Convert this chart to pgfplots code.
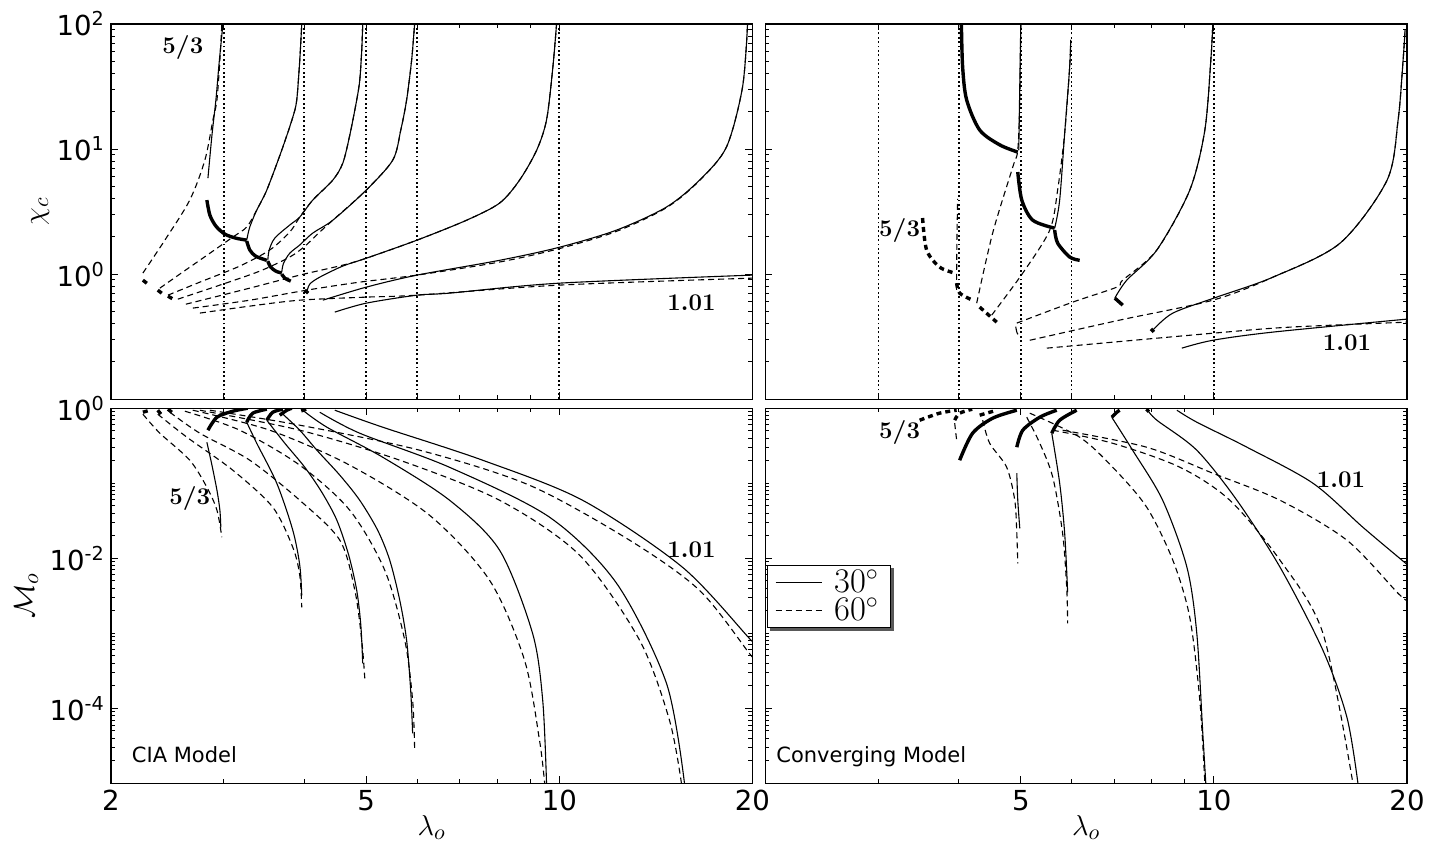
\documentclass[border=0pt]{standalone}
\usepackage[no-math]{fontspec}
\setmainfont{DejaVu Sans}
\usepackage{pgfplots}
\pgfplotsset{compat=1.18}
\usepgfplotslibrary{groupplots}
\usetikzlibrary{backgrounds}

% 1px of the reference = 0.5pt
\newcommand{\pw}[1]{10\raisebox{5pt}{\fontsize{9.6}{10}\selectfont #1}}

\pgfplotsset{
  sl/.style={black, line width=0.55pt, smooth, tension=0.5},
  dl/.style={black, line width=0.55pt, dash pattern=on 3pt off 2pt, smooth, tension=0.5},
  tsl/.style={black, line width=1.7pt, smooth, tension=0.5},
  tdl/.style={black, line width=1.7pt, dash pattern=on 2.5pt off 2pt, smooth, tension=0.5},
  vdl/.style={black, line width=0.9pt, dash pattern=on 0.9pt off 1.3pt},
}
\tikzset{lab/.style={font=\fontsize{11.5}{12}\selectfont\boldmath}}

\begin{document}
\begin{tikzpicture}
\begin{groupplot}[
  group style={group size=2 by 2, horizontal sep=6.5pt, vertical sep=4.5pt, group name=G},
  width=321pt, height=187.75pt, scale only axis,
  xmode=log, ymode=log, xmin=2, xmax=20,
  xtick={2,5,10,20}, minor xtick={3,4,6,7,8,9},
  tick align=inside,
  major tick length=3.5pt, minor tick length=2pt,
  major tick style={black, line width=0.5pt},
  minor tick style={black, line width=0.5pt},
  axis line style={line width=0.6pt},
  ticklabel style={font=\fontsize{13.8}{14}\selectfont},
  label style={font=\fontsize{15}{15}\selectfont},
]
% ---------------- top left: chi_c, CIA model
\nextgroupplot[ymin=0.1, ymax=100, ytick={1,10,100},
  yticklabels={\pw{0},\pw{1},\pw{2}},
  minor ytick={0.2,0.3,0.4,0.5,0.6,0.7,0.8,0.9,2,3,4,5,6,7,8,9,20,30,40,50,60,70,80,90},
  xticklabels={,,,},
  ylabel={$\chi_c$}, ylabel style={at={(rel axis cs:-0.11,0.5)}, anchor=center}]
\coordinate (tlo) at (rel axis cs:0,1);
\addplot[vdl] coordinates {(3,0.1) (3,100)};
\addplot[vdl] coordinates {(4,0.1) (4,100)};
\addplot[vdl] coordinates {(5,0.1) (5,100)};
\addplot[vdl] coordinates {(6,0.1) (6,100)};
\addplot[vdl] coordinates {(10,0.1) (10,100)};
% 30 deg
\addplot[sl] coordinates {(2.833,5.86) (2.874,12.9) (2.915,24.7) (2.947,47) (2.978,81.7) (2.989,100)};
\addplot[sl] coordinates {(3.256,1.87) (3.292,2.38) (3.375,3.25) (3.499,4.70) (3.693,9.82) (3.842,18.0) (3.897,24.7) (3.939,51.5) (3.968,100)};
\addplot[sl] coordinates {(3.512,1.29) (3.53,1.56) (3.601,1.94) (3.80,2.47) (3.939,2.86) (4.127,3.91) (4.435,5.65) (4.597,7.73) (4.713,12.9) (4.832,24.7) (4.885,35.6) (4.92,61.9) (4.937,100)};
\addplot[sl] coordinates {(3.693,1.04) (3.716,1.22) (3.80,1.47) (3.939,1.71) (4.127,2.13) (4.435,2.70) (5.0,4.70) (5.5,8.17) (5.66,14.2) (5.78,24.7) (5.885,51.5) (5.948,100)};
\addplot[sl] coordinates {(4.04,0.718) (4.083,0.832) (4.232,0.946) (4.597,1.16) (5.0,1.34) (6.0,1.87) (7.17,2.70) (8.07,3.70) (8.67,5.65) (9.22,9.82) (9.55,17.1) (9.76,42.9) (9.9,100)};
\addplot[sl] coordinates {(4.279,0.619) (5.0,0.787) (6.0,0.982) (8.07,1.29) (10,1.64) (12.28,2.25) (14.69,3.44) (16.54,5.65) (18.22,10.4) (19.3,31.3) (19.65,100)};
\addplot[sl] coordinates {(4.467,0.497) (5.0,0.586) (6.0,0.679) (6.745,0.705) (10,0.847) (20,0.982)};
\addplot[tsl] coordinates {(2.822,3.91) (2.853,2.96) (2.915,2.42) (3.01,2.09) (3.131,1.94) (3.256,1.87)};
\addplot[tsl] coordinates {(3.256,1.84) (3.292,1.56) (3.363,1.39) (3.499,1.29)};
\addplot[tsl] coordinates {(3.512,1.27) (3.548,1.14) (3.614,1.057) (3.693,1.02)};
\addplot[tsl] coordinates {(3.693,1.0) (3.733,0.929) (3.814,0.879)};
\addplot[tsl] coordinates {(4.01,0.745) (4.06,0.705)};
% 60 deg
\addplot[dl] coordinates {(2.243,1.02) (2.427,1.87) (2.654,3.91) (2.802,8.17) (2.884,17.1) (2.926,24.7) (2.957,51.5) (2.978,100)};
\addplot[dl] coordinates {(2.384,0.773) (2.589,1.04) (2.853,1.47) (3.098,1.98) (3.256,2.38) (3.375,3.25) (3.499,4.70) (3.693,9.82) (3.842,18.0) (3.897,24.7) (3.939,51.5) (3.968,100)};
\addplot[dl] coordinates {(2.454,0.679) (2.752,0.863) (3.176,1.16) (3.537,1.56) (3.80,2.17) (3.939,2.86) (4.127,3.91) (4.435,5.65) (4.597,7.73) (4.713,12.9) (4.832,24.7) (4.885,35.6) (4.92,61.9) (4.937,100)};
\addplot[dl] coordinates {(2.543,0.631) (2.957,0.817) (3.412,1.057) (3.80,1.37) (4.01,1.67) (4.232,2.17) (4.435,2.70) (5.0,4.70) (5.5,8.17) (5.66,14.2) (5.78,24.7) (5.885,51.5) (5.948,100)};
\addplot[dl] coordinates {(2.617,0.575) (3.292,0.773) (3.939,0.982) (4.597,1.18) (5.0,1.34) (6.0,1.87) (7.17,2.70) (8.07,3.70) (8.67,5.65) (9.22,9.82) (9.55,17.1) (9.76,42.9) (9.9,100)};
\addplot[dl] coordinates {(2.683,0.535) (3.292,0.619) (4.04,0.745) (4.885,0.863) (6.0,0.982) (8.07,1.25) (10,1.60) (12.28,2.2) (14.69,3.4) (16.54,5.6) (18.22,10.4) (19.3,31.3) (19.65,100)};
\addplot[dl] coordinates {(2.752,0.488) (3.292,0.555) (3.939,0.619) (5.0,0.655) (6.0,0.679) (10,0.817) (20,0.929)};
\addplot[tdl] coordinates {(2.243,0.895) (2.284,0.832)};
\addplot[tdl] coordinates {(2.366,0.745) (2.41,0.692)};
\addplot[tdl] coordinates {(2.454,0.667) (2.516,0.619)};
\node[lab] at (axis cs:2.589,64.3) {$5/3$};
\node[lab] at (axis cs:16.07,0.59) {$1.01$};

% ---------------- top right: chi_c, converging model
\nextgroupplot[ymin=0.1, ymax=100, ytick={1,10,100}, yticklabels={,,},
  minor ytick={0.2,0.3,0.4,0.5,0.6,0.7,0.8,0.9,2,3,4,5,6,7,8,9,20,30,40,50,60,70,80,90},
  xticklabels={,,,}]
\addplot[vdl] coordinates {(3,0.1) (3,100)};
\addplot[vdl] coordinates {(4,0.1) (4,100)};
\addplot[vdl] coordinates {(5,0.1) (5,100)};
\addplot[vdl] coordinates {(6,0.1) (6,100)};
\addplot[vdl] coordinates {(10,0.1) (10,100)};
% 30 deg
\addplot[tsl] coordinates {(4.04,100) (4.058,45.3) (4.117,24.7) (4.314,14.2) (4.636,10.8) (4.946,9.46)};
\addplot[sl] coordinates {(4.964,9.82) (4.985,40) (5.0,100)};
\addplot[tsl] coordinates {(4.946,6.55) (5.018,3.91) (5.219,2.70) (5.647,2.33)};
\addplot[tsl] coordinates {(5.647,2.25) (5.707,1.77) (5.959,1.37) (6.177,1.29)};
\addplot[sl] coordinates {(5.647,2.33) (5.749,3.91) (5.853,13.4) (5.959,45.3) (5.98,74.5)};
\addplot[sl] coordinates {(7.007,0.643) (7.315,0.895) (8.148,1.56) (9.17,4.70) (9.68,14.2) (9.89,51.5) (9.96,100)};
\addplot[tsl] coordinates {(7.007,0.643) (7.21,0.565)};
\addplot[sl] coordinates {(8.03,0.356) (8.63,0.488) (10.1,0.655) (12.36,0.946) (15.73,1.77) (18.62,5.65) (19.37,17.1) (19.72,51.5) (19.86,89.5)};
\addplot[tsl] coordinates {(7.98,0.365) (8.06,0.345)};
\addplot[sl] coordinates {(8.913,0.256) (9.96,0.296) (12.36,0.344) (20,0.437)};
\addplot[sl] coordinates {(4.91,0.38) (4.929,0.344) (4.95,0.33)};
% 60 deg
\addplot[tdl] coordinates {(3.515,2.81) (3.566,1.56) (3.735,1.14) (3.944,1.02)};
\addplot[tdl] coordinates {(3.972,0.847) (4.015,0.705) (4.206,0.619)};
\addplot[tdl] coordinates {(4.314,0.545) (4.586,0.413)};
\addplot[dl] coordinates {(4.268,0.586) (4.52,2.13) (4.858,7.18) (4.946,9.82) (4.982,24.7) (5.0,100)};
\addplot[dl] coordinates {(4.504,0.470) (5.036,1.02) (5.548,2.25) (5.707,4.70) (5.853,13.4) (5.959,45.3) (5.98,74.5)};
\addplot[dl] coordinates {(3.972,0.75) (3.975,1.6) (3.986,4.0)};
\addplot[dl] coordinates {(4.929,0.406) (6.023,0.597) (7.057,0.787) (7.21,0.895) (8.148,1.56) (9.17,4.70) (9.68,14.2) (9.89,51.5) (9.96,100)};
\addplot[dl] coordinates {(5.164,0.296) (7.13,0.429) (9.96,0.619) (12.36,0.946) (15.73,1.77) (18.62,5.65) (19.37,17.1) (19.72,51.5) (19.86,89.5)};
\addplot[dl] coordinates {(5.489,0.256) (9.96,0.337) (13.14,0.377) (20,0.413)};
\node[lab] at (axis cs:3.237,2.25) {$5/3$};
\node[lab] at (axis cs:16.12,0.2805) {$1.01$};

% ---------------- bottom left: M_o, CIA model
\nextgroupplot[ymin=1e-5, ymax=1, ytick={1e-4,1e-2,1},
  yticklabels={\pw{-4},\pw{-2},\pw{0}},
  minor ytick={2e-5,3e-5,4e-5,5e-5,6e-5,7e-5,8e-5,9e-5,2e-4,3e-4,4e-4,5e-4,6e-4,7e-4,8e-4,9e-4,1e-3,2e-3,3e-3,4e-3,5e-3,6e-3,7e-3,8e-3,9e-3,2e-2,3e-2,4e-2,5e-2,6e-2,7e-2,8e-2,9e-2,1e-1,2e-1,3e-1,4e-1,5e-1,6e-1,7e-1,8e-1,9e-1},
  xticklabels={2,5,10,20},
  xlabel={$\lambda_o$}, xlabel style={at={(rel axis cs:0.5,-0.117)}, anchor=center},
  ylabel={$\mathcal{M}_o$}, ylabel style={at={(rel axis cs:-0.132,0.5)}, anchor=center}]
% 30 deg
\addplot[tsl] coordinates {(2.833,0.509) (2.926,0.759) (3.098,0.912) (3.268,1.0)};
\addplot[tsl] coordinates {(3.256,0.651) (3.327,0.858) (3.499,0.970)};
\addplot[tsl] coordinates {(3.499,0.692) (3.575,0.884) (3.706,0.970)};
\addplot[tsl] coordinates {(3.666,0.807) (3.76,0.940) (3.828,1.0)};
\addplot[tsl] coordinates {(3.96,0.92) (4.03,0.97)};
\addplot[sl] coordinates {(2.822,0.352) (2.874,0.174) (2.926,0.0807) (2.957,0.0437) (2.967,0.0259)};
\addplot[sl] coordinates {(3.256,0.651) (3.375,0.3415) (3.627,0.1) (3.842,0.0236) (3.939,8.07e-3) (3.968,3.21e-3)};
\addplot[sl] coordinates {(3.499,0.692) (3.733,0.3415) (4.01,0.1634) (4.263,0.0759) (4.5,0.0321) (4.696,0.01096) (4.832,3.74e-3) (4.904,1.28e-3) (4.937,3.98e-4)};
\addplot[sl] coordinates {(3.693,0.858) (3.939,0.509) (4.189,0.2754) (4.548,0.128) (4.885,0.0593) (5.21,0.0236) (5.441,9.4e-3) (5.64,2.75e-3) (5.78,8.07e-4) (5.865,1.74e-4) (5.906,4.64e-5)};
\addplot[sl] coordinates {(3.982,0.940) (4.342,0.558) (5.305,0.222) (6.745,0.0593) (8.07,0.0128) (9.083,1e-3) (9.42,1.28e-4) (9.55,1e-5)};
\addplot[sl] coordinates {(4.232,0.884) (4.885,0.464) (6.745,0.163) (9.658,0.0352) (12.28,4.64e-3) (14.69,2.15e-4) (15.67,1e-5)};
\addplot[sl] coordinates {(4.467,0.940) (5.305,0.558) (7.594,0.2027) (10.87,0.0593) (15.56,7.59e-3) (19.78,8.57e-4) (20,7.9e-4)};
% 60 deg
\addplot[dl] coordinates {(2.243,0.832) (2.384,0.464) (2.654,0.2027) (2.822,0.0885) (2.926,0.0437) (2.978,0.0191)};
\addplot[dl] coordinates {(2.366,0.832) (2.627,0.4107) (3.098,0.149) (3.575,0.0479) (3.842,0.014) (3.939,5.93e-3) (3.968,2.22e-3)};
\addplot[dl] coordinates {(2.471,0.884) (2.752,0.464) (3.292,0.2027) (3.939,0.0593) (4.548,0.0174) (4.8,3.74e-3) (4.92,8.07e-4) (4.974,2.51e-4)};
\addplot[dl] coordinates {(2.608,0.912) (3.176,0.509) (3.939,0.174) (4.713,0.0437) (5.344,6.92e-3) (5.742,8.07e-4) (5.906,1.28e-4) (5.948,2.93e-5)};
\addplot[dl] coordinates {(2.683,0.94) (3.537,0.509) (4.713,0.174) (6.278,0.0374) (7.787,5.09e-3) (8.826,4.37e-4) (9.313,3.74e-5) (9.486,1e-5)};
\addplot[dl] coordinates {(2.752,0.94) (3.939,0.509) (5.64,0.2027) (8.07,0.0593) (10.76,0.01096) (13.34,8.07e-4) (14.85,6.92e-5) (15.5,1e-5)};
\addplot[dl] coordinates {(2.853,0.94) (3.939,0.594) (6.058,0.2754) (8.985,0.094) (12.87,0.0174) (16.54,3.74e-3) (19.78,5.41e-4) (20,4.9e-4)};
\addplot[tdl] coordinates {(2.243,0.884) (2.30,0.94)};
\addplot[tdl] coordinates {(2.366,0.94) (2.40,0.807)};
\addplot[tdl] coordinates {(2.454,0.97) (2.50,0.858)};
\node[lab] at (axis cs:2.654,0.0631) {$5/3$};
\node[lab] at (axis cs:16.07,0.0128) {$1.01$};
\node[anchor=base west, font=\fontsize{10.5}{11}\selectfont] at (rel axis cs:0.0218,0.0566) {CIA Model};

% ---------------- bottom right: M_o, converging model
\nextgroupplot[ymin=1e-5, ymax=1, ytick={1e-4,1e-2,1}, yticklabels={,,},
  minor ytick={2e-5,3e-5,4e-5,5e-5,6e-5,7e-5,8e-5,9e-5,2e-4,3e-4,4e-4,5e-4,6e-4,7e-4,8e-4,9e-4,1e-3,2e-3,3e-3,4e-3,5e-3,6e-3,7e-3,8e-3,9e-3,2e-2,3e-2,4e-2,5e-2,6e-2,7e-2,8e-2,9e-2,1e-1,2e-1,3e-1,4e-1,5e-1,6e-1,7e-1,8e-1,9e-1},
  xticklabels={,5,10,20},
  xlabel={$\lambda_o$}, xlabel style={at={(rel axis cs:0.5,-0.117)}, anchor=center},
  legend style={name=lgd, at={(0.002,0.582)}, anchor=north west, draw=black, fill=white,
    font=\fontsize{18}{16}\selectfont, inner xsep=4pt, inner ysep=0pt, row sep=-3pt},
  legend cell align=left,
  legend image code/.code={\draw[#1] (0pt,0pt) -- (23pt,0pt); \path (27pt,0pt);}]
\addlegendimage{black, line width=0.55pt}
\addlegendentry{$30^\circ$}
\addlegendimage{black, line width=0.55pt, dash pattern=on 3pt off 2pt}
\addlegendentry{$60^\circ$}
\coordinate (bro) at (rel axis cs:1,0);
% 30 deg
\addplot[tsl] coordinates {(4.015,0.2027) (4.206,0.464) (4.52,0.736) (4.929,0.94)};
\addplot[tsl] coordinates {(4.929,0.302) (5.036,0.509) (5.353,0.759) (5.688,0.94)};
\addplot[tsl] coordinates {(5.588,0.464) (5.749,0.692) (6.112,0.94)};
\addplot[tsl] coordinates {(6.93,0.759) (7.057,0.884) (7.13,0.94)};
\addplot[tsl] coordinates {(7.85,0.97) (7.92,0.90)};
\addplot[sl] coordinates {(4.929,0.136) (4.946,0.0593) (4.982,0.0251)};
\addplot[sl] coordinates {(5.588,0.464) (5.749,0.1) (5.853,0.0215) (5.916,3.52e-3)};
\addplot[sl] coordinates {(6.93,0.759) (7.47,0.2754) (8.32,0.0593) (9.077,7.59e-3) (9.404,1e-3) (9.609,4.64e-5) (9.713,1e-5)};
\addplot[sl] coordinates {(7.886,0.94) (8.148,0.692) (9.404,0.2754) (10.86,0.0593) (12.68,7.59e-3) (14.79,5.93e-4) (16.12,7.59e-5) (16.77,1e-5)};
\addplot[sl] coordinates {(8.757,0.94) (9.404,0.651) (11.26,0.302) (14.27,0.1) (17.07,0.0259) (19.65,9.4e-3) (20,8.3e-3)};
% 60 deg
\addplot[tdl] coordinates {(3.478,0.692) (3.735,0.858) (3.972,0.94)};
\addplot[tdl] coordinates {(3.944,0.692) (4.015,0.858) (4.2,0.97)};
\addplot[tdl] coordinates {(4.314,0.807) (4.586,0.94)};
\addplot[dl] coordinates {(3.944,0.631) (3.972,0.375)};
\addplot[dl] coordinates {(4.361,0.692) (4.472,0.341) (4.753,0.1634) (4.893,0.0593) (4.929,0.0215) (4.946,8.58e-3)};
\addplot[dl] coordinates {(5.108,0.759) (5.353,0.341) (5.608,0.1202) (5.81,0.0215) (5.896,4.1e-3) (5.916,1.36e-3)};
\addplot[dl] coordinates {(5.164,0.858) (6.177,0.411) (6.955,0.1634) (7.859,0.0479) (8.63,9.4e-3) (9.17,1.63e-3) (9.507,1.28e-4) (9.68,1e-5)};
\addplot[dl] coordinates {(5.608,0.509) (6.955,0.341) (8.852,0.1634) (10.59,0.0593) (12.68,9.4e-3) (14.79,1e-3) (16.47,1e-5)};
\addplot[dl] coordinates {(5.81,0.509) (7.859,0.302) (9.96,0.136) (12.68,0.0593) (16.12,0.0174) (19.37,3.41e-3) (20,2.75e-3)};
\node[lab] at (axis cs:3.237,0.479) {$5/3$};
\node[lab] at (axis cs:15.78,0.1096) {$1.01$};
\node[anchor=base west, font=\fontsize{10.5}{11}\selectfont] at (rel axis cs:0.006,0.0566) {Converging Model};
\end{groupplot}
% drop shadow of the legend box, behind everything
\begin{pgfonlayer}{background}
\fill[black!65] ([shift={(1.6pt,-1.6pt)}]lgd.south west) rectangle ([shift={(1.6pt,-1.6pt)}]lgd.north east);
\end{pgfonlayer}
\pgfresetboundingbox
\path ([shift={(-55.5pt,12pt)}]tlo) rectangle ([shift={(11pt,-29pt)}]bro);
\end{tikzpicture}
\end{document}
